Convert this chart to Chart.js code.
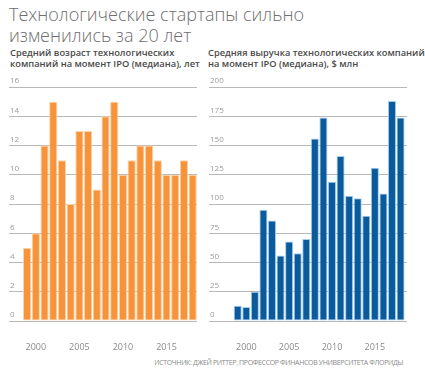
<!DOCTYPE html>
<html><head><meta charset="utf-8">
<script src="https://cdn.jsdelivr.net/npm/chart.js@4"></script>
<style>
html,body{margin:0;padding:0;background:#fff;width:425px;height:380px;overflow:hidden;font-family:"Open Sans",sans-serif;}
.t{position:absolute;white-space:nowrap;}
#title{left:9px;top:4px;font-size:18px;line-height:21px;color:#6e6e6e;font-weight:300;}
.sub{top:47px;font-size:9.3px;line-height:11px;color:#4a4a4a;font-weight:600;}
#src{right:22px;top:358px;font-size:7px;color:#8a8a8a;letter-spacing:-0.35px;}
#c1{position:absolute;left:0;top:75px;}
#c2{position:absolute;left:205px;top:75px;}
</style></head><body>
<div id="title" class="t">Технологические стартапы сильно<br>изменились за 20 лет</div>
<div class="t sub" style="left:10px">Средний возраст технологических<br>компаний на момент IPO (медиана), лет</div>
<div class="t sub" style="left:208px">Средняя выручка технологических компаний<br>на момент IPO (медиана), $ млн</div>
<div id="src" class="t">ИСТОЧНИК: ДЖЕЙ РИТТЕР, ПРОФЕССОР ФИНАНСОВ УНИВЕРСИТЕТА ФЛОРИДЫ</div>
<canvas id="c1" width="205" height="300"></canvas>
<canvas id="c2" width="220" height="300"></canvas>
<script>
const years = [1999,2000,2001,2002,2003,2004,2005,2006,2007,2008,2009,2010,2011,2012,2013,2014,2015,2016,2017,2018];
const ageValues = [5,6,12,15,11,8,13,13,9,14,15,10,11,12,12,11,10,10,11,10];
const revenueValues = [13,12,25,95,86,56,68,58,70,156,174,119,141,107,105,90,131,109,188,174];
const yearTicks = [2000,2005,2010,2015];

function makeChart(id, values, color, border, yMax, yStep, xMin, xMax, pad){
  return new Chart(document.getElementById(id), {
    type:'bar',
    data:{datasets:[{data: years.map((y,i)=>({x:y,y:values[i]})), backgroundColor:color, borderColor:border, borderWidth:1, borderSkipped:false, barPercentage:0.94, categoryPercentage:1}]},
    options:{
      responsive:false, animation:false, devicePixelRatio:1,
      layout:{padding:pad},
      plugins:{legend:{display:false},tooltip:{enabled:false}},
      scales:{
        x:{type:'linear', min:xMin, max:xMax, offset:false,
           grid:{display:false}, border:{display:false},
           afterBuildTicks:s=>{s.ticks=yearTicks.map(v=>({value:v}));},
           afterFit:s=>{s.height=30;},
           ticks:{padding:13, color:'#8a8a8a', font:{family:'Open Sans', size:9}, callback:v=>String(v), maxRotation:0, autoSkip:false}},
        y:{min:0, max:yMax, border:{display:false},
           grid:{color:'#b8b8b8', borderDash:[1,1], drawTicks:false, lineWidth:1},
           ticks:{stepSize:yStep, mirror:true, padding:1, labelOffset:-6, color:'#9a9a9a', font:{family:'Open Sans', size:8}}}
      }
    }
  });
}
makeChart('c1', ageValues, '#f7943b', '#fcd2a6', 16, 2, 1996.92, 2018.5, {left:7,right:8,top:12,bottom:24});
makeChart('c2', revenueValues, '#0a5a9c', '#9fcdee', 200, 25, 1995.65, 2018.75, {left:2,right:18,top:12,bottom:24});
</script>
</body></html>
